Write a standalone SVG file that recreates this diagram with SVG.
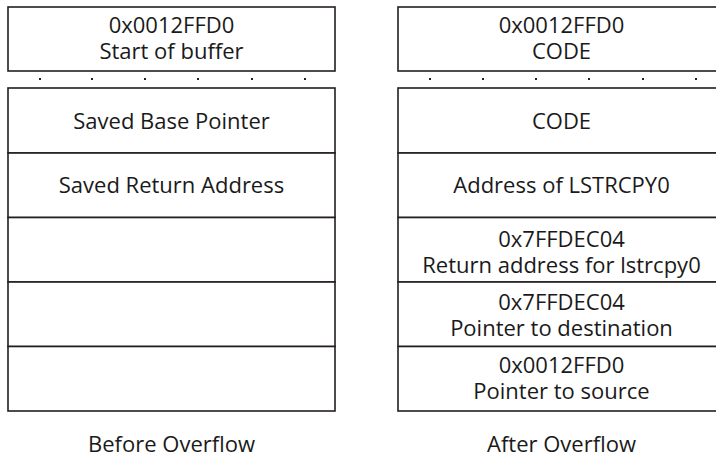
<svg xmlns="http://www.w3.org/2000/svg" width="716" height="457" viewBox="0 0 716 457">
<style>
.box{fill:#fff;stroke:#231f20;stroke-width:1.6}
.t{font-family:"Open Sans","Liberation Sans",sans-serif;font-size:22px;fill:#1a1a1a;text-anchor:middle}
.dot{fill:#231f20}
</style>
<rect width="716" height="457" fill="#fff"/>
<g id="before">
  <g id="b-top"><rect class="box" x="8" y="7" width="327" height="64"/>
    <text class="t" x="171.5" y="33">0x0012FFD0</text>
    <text class="t" x="171.5" y="59">Start of buffer</text></g>
  <g id="b-dots">
    <rect class="dot" x="39" y="78" width="2" height="2"/><rect class="dot" x="91" y="78" width="2" height="2"/>
    <rect class="dot" x="144" y="78" width="2" height="2"/><rect class="dot" x="197" y="78" width="2" height="2"/>
    <rect class="dot" x="251" y="78" width="2" height="2"/><rect class="dot" x="304" y="78" width="2" height="2"/>
  </g>
  <g id="b-sbp"><rect class="box" x="8" y="88" width="327" height="65"/>
    <text class="t" x="171.5" y="129">Saved Base Pointer</text></g>
  <g id="b-sra"><rect class="box" x="8" y="153" width="327" height="64.5"/>
    <text class="t" x="171.5" y="193">Saved Return Address</text></g>
  <g id="b-r3"><rect class="box" x="8" y="217.5" width="327" height="64.5"/></g>
  <g id="b-r4"><rect class="box" x="8" y="282" width="327" height="64.5"/></g>
  <g id="b-r5"><rect class="box" x="8" y="346.5" width="327" height="64.5"/></g>
  <text class="t" x="171.5" y="452">Before Overflow</text>
</g>
<g id="after">
  <g id="a-top"><rect class="box" x="398" y="7" width="327" height="64"/>
    <text class="t" x="561.5" y="33">0x0012FFD0</text>
    <text class="t" x="561.5" y="59">CODE</text></g>
  <g id="a-dots">
    <rect class="dot" x="429" y="78" width="2" height="2"/><rect class="dot" x="482" y="78" width="2" height="2"/>
    <rect class="dot" x="535" y="78" width="2" height="2"/><rect class="dot" x="588" y="78" width="2" height="2"/>
    <rect class="dot" x="642" y="78" width="2" height="2"/><rect class="dot" x="695" y="78" width="2" height="2"/>
  </g>
  <g id="a-code"><rect class="box" x="398" y="88" width="327" height="65"/>
    <text class="t" x="561.5" y="129">CODE</text></g>
  <g id="a-lstr"><rect class="box" x="398" y="153" width="327" height="64.5"/>
    <text class="t" x="561.5" y="193">Address of LSTRCPY0</text></g>
  <g id="a-ret"><rect class="box" x="398" y="217.5" width="327" height="64.5"/>
    <text class="t" x="561.5" y="247">0x7FFDEC04</text>
    <text class="t" x="561.5" y="273">Return address for lstrcpy0</text></g>
  <g id="a-dst"><rect class="box" x="398" y="282" width="327" height="64.5"/>
    <text class="t" x="561.5" y="310">0x7FFDEC04</text>
    <text class="t" x="561.5" y="336">Pointer to destination</text></g>
  <g id="a-src"><rect class="box" x="398" y="346.5" width="327" height="64.5"/>
    <text class="t" x="561.5" y="373">0x0012FFD0</text>
    <text class="t" x="561.5" y="399">Pointer to source</text></g>
  <text class="t" x="561.5" y="452">After Overflow</text>
</g>
<g id="connectors"/>
</svg>
